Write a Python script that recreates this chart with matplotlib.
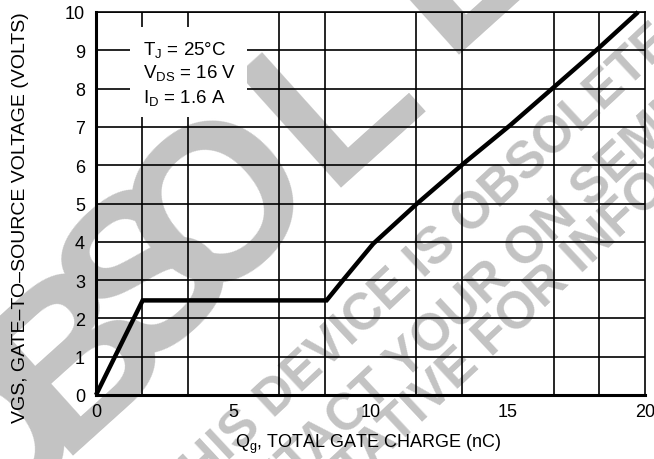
import matplotlib
matplotlib.use('Agg')
import matplotlib.pyplot as plt
import numpy as np
from matplotlib.patches import Rectangle

# ---- data ----
qg = [0, 1.7, 8.4, 9.0, 10.1, 11.7, 13.4, 15.1, 16.7, 18.3, 19.75]
vgs = [0, 2.47, 2.47, 3.0, 3.95, 5.0, 6.05, 7.05, 8.05, 9.05, 10.0]
x_ticks = [0, 5, 10, 15, 20]
y_ticks = list(range(0, 11))
conditions = [r'$\mathregular{T_J}$ = 25°C',
              r'$\mathregular{V_{DS}}$ = 16 V',
              r'$\mathregular{I_D}$ = 1.6 A']
xlabel = r'$\mathregular{Q_g}$, TOTAL GATE CHARGE (nC)'
ylabel = 'VGS, GATE–TO–SOURCE VOLTAGE (VOLTS)'
wm_letters = ['O', 'B', 'S', 'O', 'L', 'E', 'T', 'E']
wm_lines = ['THIS DEVICE IS OBSOLETE',
            'CONTACT YOUR ON SEMICONDUCTOR',
            'REPRESENTATIVE FOR INFORMATION']

W, H = 654, 460
FONT = ['Liberation Sans', 'DejaVu Sans']
plt.rcParams['font.family'] = FONT
plt.rcParams['mathtext.fontset'] = 'custom'

def px(x, y):
    return x / W, 1 - y / H

fig = plt.figure(figsize=(W / 100, H / 100), dpi=100)
fig.patch.set_facecolor('white')
ax = fig.add_axes([96 / W, 1 - 396 / H, 549 / W, 383 / H])
ax.patch.set_facecolor('none')

# ---- watermark (behind the grid) ----
grey = '#c3c3c3'
letter_centers = [(-20, 430), (64, 342), (137, 264), (209, 192),
                  (322, 82), (445, -55), (540, -150), (630, -235)]
for (cx, cy), s in zip(letter_centers, wm_letters):
    fig.text(*px(cx, cy), s, fontsize=160, fontweight='bold', family=FONT,
             color=grey, rotation=42, rotation_mode='anchor', ha='center',
             va='center_baseline', zorder=-2)
line_centers = [(414, 262), (556, 214), (482, 341)]
for (cx, cy), s in zip(line_centers, wm_lines):
    fig.text(*px(cx, cy), s, fontsize=37, fontweight='bold', family=FONT,
             color=grey, rotation=43, rotation_mode='anchor', ha='center',
             va='center_baseline', zorder=-2)

# ---- axes ----
ax.set_xlim(0, 20)
ax.set_ylim(0, 10)
ax.set_xticks(x_ticks)
ax.set_xticks(np.linspace(0, 20, 13), minor=True)
ax.set_yticks(y_ticks)
ax.grid(True, which='minor', axis='x', color='black', lw=1.2)
ax.grid(True, which='major', axis='y', color='black', lw=1.2)
ax.tick_params(which='both', length=0, labelsize=13, colors='black')
ax.tick_params(axis='x', pad=6)
ax.tick_params(axis='y', pad=8)
for s in ['left', 'bottom']:
    ax.spines[s].set_linewidth(2.2)
for s in ['top', 'right']:
    ax.spines[s].set_linewidth(1.2)

ax.plot(qg, vgs, color='black', lw=3.2, solid_joinstyle='miter',
        solid_capstyle='butt', clip_on=False, zorder=3)

# ---- condition box ----
ax.add_patch(Rectangle(((130 - 96) / 549, (396 - 118) / 383),
                       117 / 549, 90 / 383, transform=ax.transAxes,
                       facecolor='white', edgecolor='none', zorder=4))
for yb, s in zip([55, 78, 103], conditions):
    ax.text((143 - 96) / 549, (396 - yb) / 383, s, transform=ax.transAxes,
            fontsize=13.5, va='baseline', ha='left', zorder=5)

fig.text(*px(368, 448), xlabel, fontsize=13, ha='center', va='baseline')
fig.text(*px(21, 218), ylabel, fontsize=14, ha='center', va='center',
         rotation=90)

fig.savefig('out.png', dpi=100)
